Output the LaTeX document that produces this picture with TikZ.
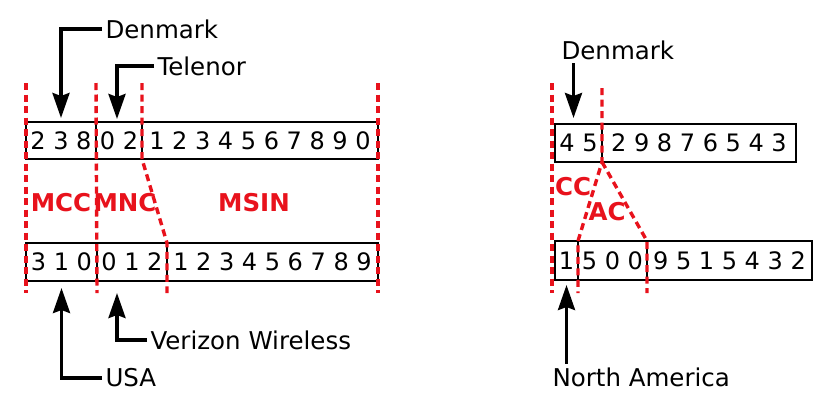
\documentclass[tikz,border=0pt]{standalone}
\usepackage{fontspec}
\setmainfont{DejaVu Sans}
\usetikzlibrary{arrows.meta,positioning}
\definecolor{sepred}{RGB}{232,18,28}

\begin{document}
\begin{tikzpicture}[x=1pt,y=-1pt,
    field/.style={draw, line width=1.6pt, inner sep=0pt, outer sep=0pt, font=\fontsize{24}{29}\selectfont},
    lbl/.style={font=\fontsize{24.5}{29}\selectfont},
    part/.style={text=sepred, font=\fontsize{24.5}{29}\selectfont\bfseries},
    divider/.style={draw=sepred, line width=3.4pt, dash pattern=on 7pt off 4.5pt},
    pointer/.style={-{Stealth[length=25pt,width=17pt,inset=3pt]}, line width=3.4pt}
]
\useasboundingbox (0,0) rectangle (826,408);
\coordinate (top) at (0,83);
\coordinate (topB) at (0,88);
\coordinate (bot) at (0,293);

% IMSI examples
\node[field, minimum width=70pt, minimum height=37pt, anchor=north west] (mccA) at (26,122) {2 3 8};
\node[field, minimum width=46pt, minimum height=37pt, right=0pt of mccA] (mncA) {0 2};
\node[field, minimum width=236pt, minimum height=37pt, right=0pt of mncA] (msinA) {1 2 3 4 5 6 7 8 9 0};

\node[field, minimum width=71pt, minimum height=38pt, anchor=north west] (mccB) at (26,243) {3 1 0};
\node[field, minimum width=70pt, minimum height=38pt, right=0pt of mccB] (mncB) {0 1 2};
\node[field, minimum width=211pt, minimum height=38pt, right=0pt of mncB] (msinB) {1 2 3 4 5 6 7 8 9};

% phone numbers
\node[field, minimum width=47pt, minimum height=38pt, anchor=north west] (ccA) at (555,124) {4 5};
\node[field, minimum width=194pt, minimum height=38pt, right=0pt of ccA] (restA) {2 9 8 7 6 5 4 3};

\node[field, minimum width=23pt, minimum height=39pt, anchor=north west] (ccB) at (555,241) {1};
\node[field, minimum width=69pt, minimum height=39pt, right=0pt of ccB] (acB) {5 0 0};
\node[field, minimum width=165pt, minimum height=39pt, right=0pt of acB] (restB) {9 5 1 5 4 3 2};

% red separators
\draw[divider] (mccA.north west |- top) -- (mccB.south west |- bot);
\draw[divider] (mncA.north west |- top) -- (mncB.south west |- bot);
\draw[divider] (msinA.north west |- top) -- (msinA.south west) -- (msinB.north west) -- (msinB.south west |- bot);
\draw[divider] (msinA.north east |- top) -- (msinB.south east |- bot);
\draw[divider] ([xshift=-3pt]ccA.north west |- top) -- ([xshift=-3pt]ccB.south west |- bot);
\draw[divider] (restA.north west |- topB) -- (restA.south west) -- (acB.north west) -- (acB.south west |- bot);
\draw[divider] (restA.south west) -- (restB.north west) -- (restB.south west |- bot);

\node[part] (mcc) at (61,203) {MCC};
\node[part] (mnc) at (125,203) {MNC};
\node[part] (msin) at (254,203) {MSIN};
\node[part] (cc) at (573,187) {CC};
\node[part] (ac) at (607,212) {AC};

% callouts
\node[lbl, anchor=west] (dk) at (102,29) {Denmark};
\node[lbl, anchor=west] (tel) at (154,66) {Telenor};
\node[lbl, anchor=west] (usa) at (102,378) {USA};
\node[lbl, anchor=west] (vz) at (147,340) {Verizon Wireless};
\node[lbl, anchor=west] (dk2) at (558,50) {Denmark};
\node[lbl, anchor=west] (na) at (549,377) {North America};

\draw[pointer, shorten >=4pt] (dk.west) -| (mccA.north);
\draw[pointer, shorten >=3pt] (tel.west) -| ([xshift=21pt]mncA.north west);
\draw[pointer, shorten >=7pt] (usa.west) -| (mccB.south);
\draw[pointer, shorten >=12pt] (vz.west) -| ([xshift=20pt]mncB.south west);
\draw[pointer, shorten >=6pt] ([xshift=-5pt]ccA |- dk2.south) -- ([xshift=-5pt]ccA.north);
\draw[pointer, shorten >=5pt] (ccB |- na.north) -- (ccB.south);
\end{tikzpicture}
\end{document}
